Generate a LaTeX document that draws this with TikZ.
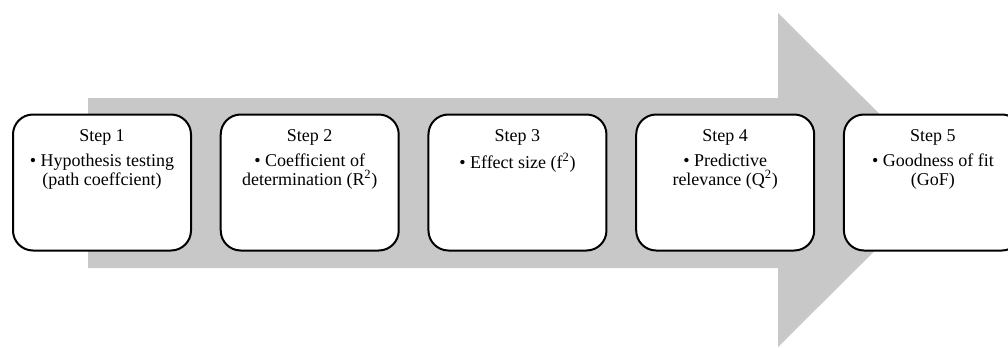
\documentclass[tikz,border=0pt]{standalone}
\usepackage{fontspec}
\setmainfont{Liberation Serif}
\usetikzlibrary{positioning}
\definecolor{arrowgray}{RGB}{200,200,200}

\begin{document}
\begin{tikzpicture}[x=0.75pt,y=-0.75pt,
		stepbox/.style={draw,line width=1.5pt,rounded corners=15pt,fill=white,minimum width=133.5pt,minimum height=102pt,inner sep=0pt},
		steptext/.style={align=center,inner sep=0pt,font=\fontsize{13.5}{14.25}\selectfont}]
			\useasboundingbox (0,0) rectangle (1008,347);
			\clip (0,0) rectangle (1008,347);
			\fill[arrowgray] (88,98) -- (778,98) -- (778,13) -- (946,180) -- (778,347) -- (778,268) -- (88,268) -- cycle;
			\node[stepbox] (s1) at (102,182.5) {};
			\node[stepbox,right=20.8pt of s1] (s2) {};
			\node[stepbox,right=20.8pt of s2] (s3) {};
			\node[stepbox,right=20.8pt of s3] (s4) {};
			\node[stepbox,right=20.8pt of s4] (s5) {};
			\node[steptext,below=12.2pt of s1.north] (t1) {Step 1\\[4.5pt]\textbullet\ Hypothesis testing\\(path coeffcient)};
			\node[steptext,below=12.2pt of s2.north] (t2) {Step 2\\[4.5pt]\textbullet\ Coefficient of\\determination (R\textsuperscript{2})};
			\node[steptext,below=12.2pt of s3.north] (t3) {Step 3\\[4.5pt]\textbullet\ Effect size (f\textsuperscript{2})};
			\node[steptext,below=12.2pt of s4.north] (t4) {Step 4\\[4.5pt]\textbullet\ Predictive\\relevance (Q\textsuperscript{2})};
			\node[steptext,below=12.2pt of s5.north] (t5) {Step 5\\[4.5pt]\textbullet\ Goodness of fit\\(GoF)};
		\end{tikzpicture}
\end{document}
